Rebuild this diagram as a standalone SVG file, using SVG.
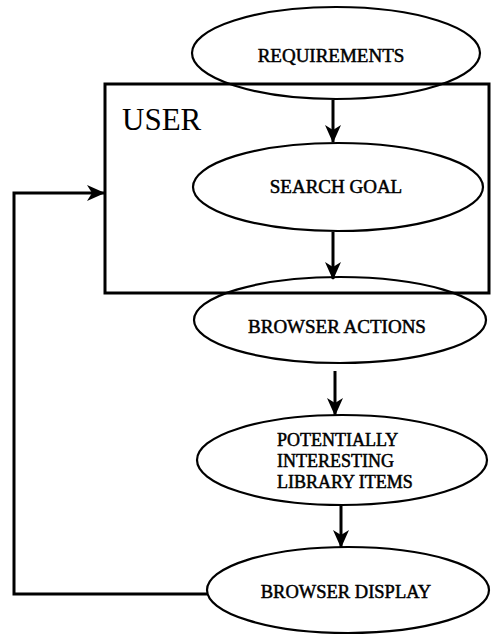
<svg xmlns="http://www.w3.org/2000/svg" width="491" height="638" viewBox="0 0 491 638">
  <style>
    .node { fill: none; stroke: #000; stroke-width: 2.2; }
    .frame { fill: none; stroke: #000; stroke-width: 3; }
    .label { font-family: "Liberation Serif", "Times New Roman", serif; font-size: 19px; fill: #000; stroke: #000; stroke-width: 0.5; }
    .title { font-family: "Liberation Serif", "Times New Roman", serif; font-size: 31px; fill: #000; }
    .flow { fill: none; stroke: #000; stroke-width: 3; }
  </style>
  <defs>
    <marker id="head" markerUnits="userSpaceOnUse" markerWidth="18" markerHeight="16" refX="17" refY="8" orient="auto">
      <path d="M0,0 L18,8 L0,16 L5,8 Z" fill="#000"/>
    </marker>
  </defs>
  <rect width="491" height="638" fill="#fff"/>

  <!-- USER boundary -->
  <g id="user">
    <rect class="frame" x="105" y="84" width="384" height="209"/>
    <text class="title" x="122" y="130">USER</text>
  </g>

  <g id="requirements">
    <ellipse class="node" cx="336" cy="53" rx="144" ry="46"/>
    <text class="label" x="331" y="62" text-anchor="middle">REQUIREMENTS</text>
  </g>

  <g id="search-goal">
    <ellipse class="node" cx="338" cy="187" rx="145" ry="44"/>
    <text class="label" x="336" y="193" text-anchor="middle">SEARCH GOAL</text>
  </g>

  <g id="browser-actions">
    <ellipse class="node" cx="340" cy="320" rx="146" ry="43"/>
    <text class="label" x="337" y="333" text-anchor="middle">BROWSER ACTIONS</text>
  </g>

  <g id="library-items">
    <ellipse class="node" cx="342" cy="460" rx="145" ry="45"/>
    <text class="label" x="277" y="446" style="font-size:18px">POTENTIALLY</text>
    <text class="label" x="277" y="467" style="font-size:18px">INTERESTING</text>
    <text class="label" x="277" y="488" style="font-size:18px">LIBRARY ITEMS</text>
  </g>

  <g id="browser-display">
    <ellipse class="node" cx="348" cy="590" rx="141" ry="43"/>
    <text class="label" x="346" y="598" text-anchor="middle" style="font-size:18.5px">BROWSER DISPLAY</text>
  </g>

  <!-- connectors -->
  <g id="connectors">
    <line class="flow" x1="333" y1="100" x2="333" y2="142" marker-end="url(#head)"/>
    <line class="flow" x1="333" y1="232" x2="333" y2="279" marker-end="url(#head)"/>
    <line class="flow" x1="335" y1="371" x2="335" y2="415" marker-end="url(#head)"/>
    <line class="flow" x1="341" y1="506" x2="341" y2="547" marker-end="url(#head)"/>
    <path class="flow" d="M208,594 H14 V193 H104" marker-end="url(#head)"/>
  </g>
</svg>
